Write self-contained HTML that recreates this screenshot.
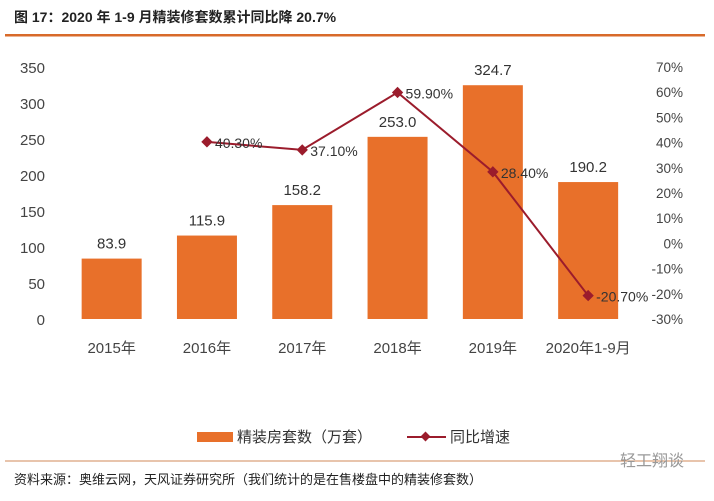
<!DOCTYPE html>
<html><head><meta charset="utf-8"><style>
body{margin:0;background:#fff;width:714px;height:496px;overflow:hidden;font-family:"Liberation Sans","Noto Sans CJK SC",sans-serif;}
</style></head><body>
<svg width="714" height="496" xmlns="http://www.w3.org/2000/svg" font-family="Liberation Sans, Noto Sans CJK SC, sans-serif">
<text x="14" y="22" font-size="14" font-weight="bold" fill="#222">图 17：2020 年 1-9 月精装修套数累计同比降 20.7%</text>
<rect x="5" y="34" width="700" height="2.5" fill="#d86a2a"/>
<g id="axes"></g>
<g id="bars"></g>
<g id="line"></g>
<g>
<rect x="197" y="432" width="36" height="10" fill="#e8702a"/>
<text x="237" y="442" font-size="15" fill="#333">精装房套数（万套）</text>
<line x1="407" y1="437" x2="446" y2="437" stroke="#9b1c2c" stroke-width="2"/>
<rect x="422" y="433" width="7" height="7" fill="#9b1c2c" transform="rotate(45 425.5 436.5)"/>
<text x="450" y="442" font-size="15" fill="#333">同比增速</text>
</g>
<line x1="5" y1="461" x2="705" y2="461" stroke="#d08a5a" stroke-width="1"/>
<text x="14" y="484" font-size="13" fill="#222">资料来源：奥维云网，天风证券研究所（我们统计的是在售楼盘中的精装修套数）</text>
<text x="620" y="466" font-size="16" fill="#999">轻工翔谈</text>
</svg>
<script>
const categories=["2015年","2016年","2017年","2018年","2019年","2020年1-9月"];
const units=[83.9,115.9,158.2,253.0,324.7,190.2];
const growth=[null,40.3,37.1,59.9,28.4,-20.7];
const leftTicks=[0,50,100,150,200,250,300,350];
const rightTicks=[-30,-20,-10,0,10,20,30,40,50,60,70];
const NS="http://www.w3.org/2000/svg";
const x0=64,step=95.3,bw=60;
const yL=v=>319-v*0.72;
const yR=v=>319-(v+30)*2.52;
const xC=i=>x0+step*(i+0.5);
function mk(t,a,p,txt){const e=document.createElementNS(NS,t);for(const k in a)e.setAttribute(k,a[k]);if(txt!==undefined)e.textContent=txt;p.appendChild(e);return e;}
const ax=document.getElementById('axes'),bg=document.getElementById('bars'),lg=document.getElementById('line');
leftTicks.forEach(v=>{const e=mk('text',{x:45,y:yL(v)+6,'font-size':15,fill:'#444','text-anchor':'end'},ax,v);

});
rightTicks.forEach(v=>{const e=mk('text',{x:683,y:yR(v)+5,'font-size':13.5,fill:'#444','text-anchor':'end'},ax,v+'%');

});
categories.forEach((c,i)=>{const e=mk('text',{x:xC(i),y:353,'font-size':15,fill:'#444','text-anchor':'middle'},ax,c);

});
units.forEach((v,i)=>{const r=mk('rect',{x:xC(i)-bw/2,y:yL(v),width:bw,height:yL(0)-yL(v),fill:'#e8702a'},bg);


const t=mk('text',{x:xC(i),y:yL(v)-10,'font-size':15,fill:'#333','text-anchor':'middle'},bg,v.toFixed(1));

});
const pts=[];growth.forEach((v,i)=>{if(v!==null)pts.push([xC(i),yR(v),v]);});
const pl=mk('polyline',{points:pts.map(p=>p[0]+','+p[1]).join(' '),fill:'none',stroke:'#9b1c2c','stroke-width':2},lg);


pts.forEach(p=>{const m=mk('rect',{x:p[0]-4,y:p[1]-4,width:8,height:8,fill:'#9b1c2c',transform:`rotate(45 ${p[0]} ${p[1]})`},lg);


const t=mk('text',{x:p[0]+8,y:p[1]+6,'font-size':14,fill:'#333'},lg,p[2].toFixed(2)+'%');

});
</script>
</body></html>
